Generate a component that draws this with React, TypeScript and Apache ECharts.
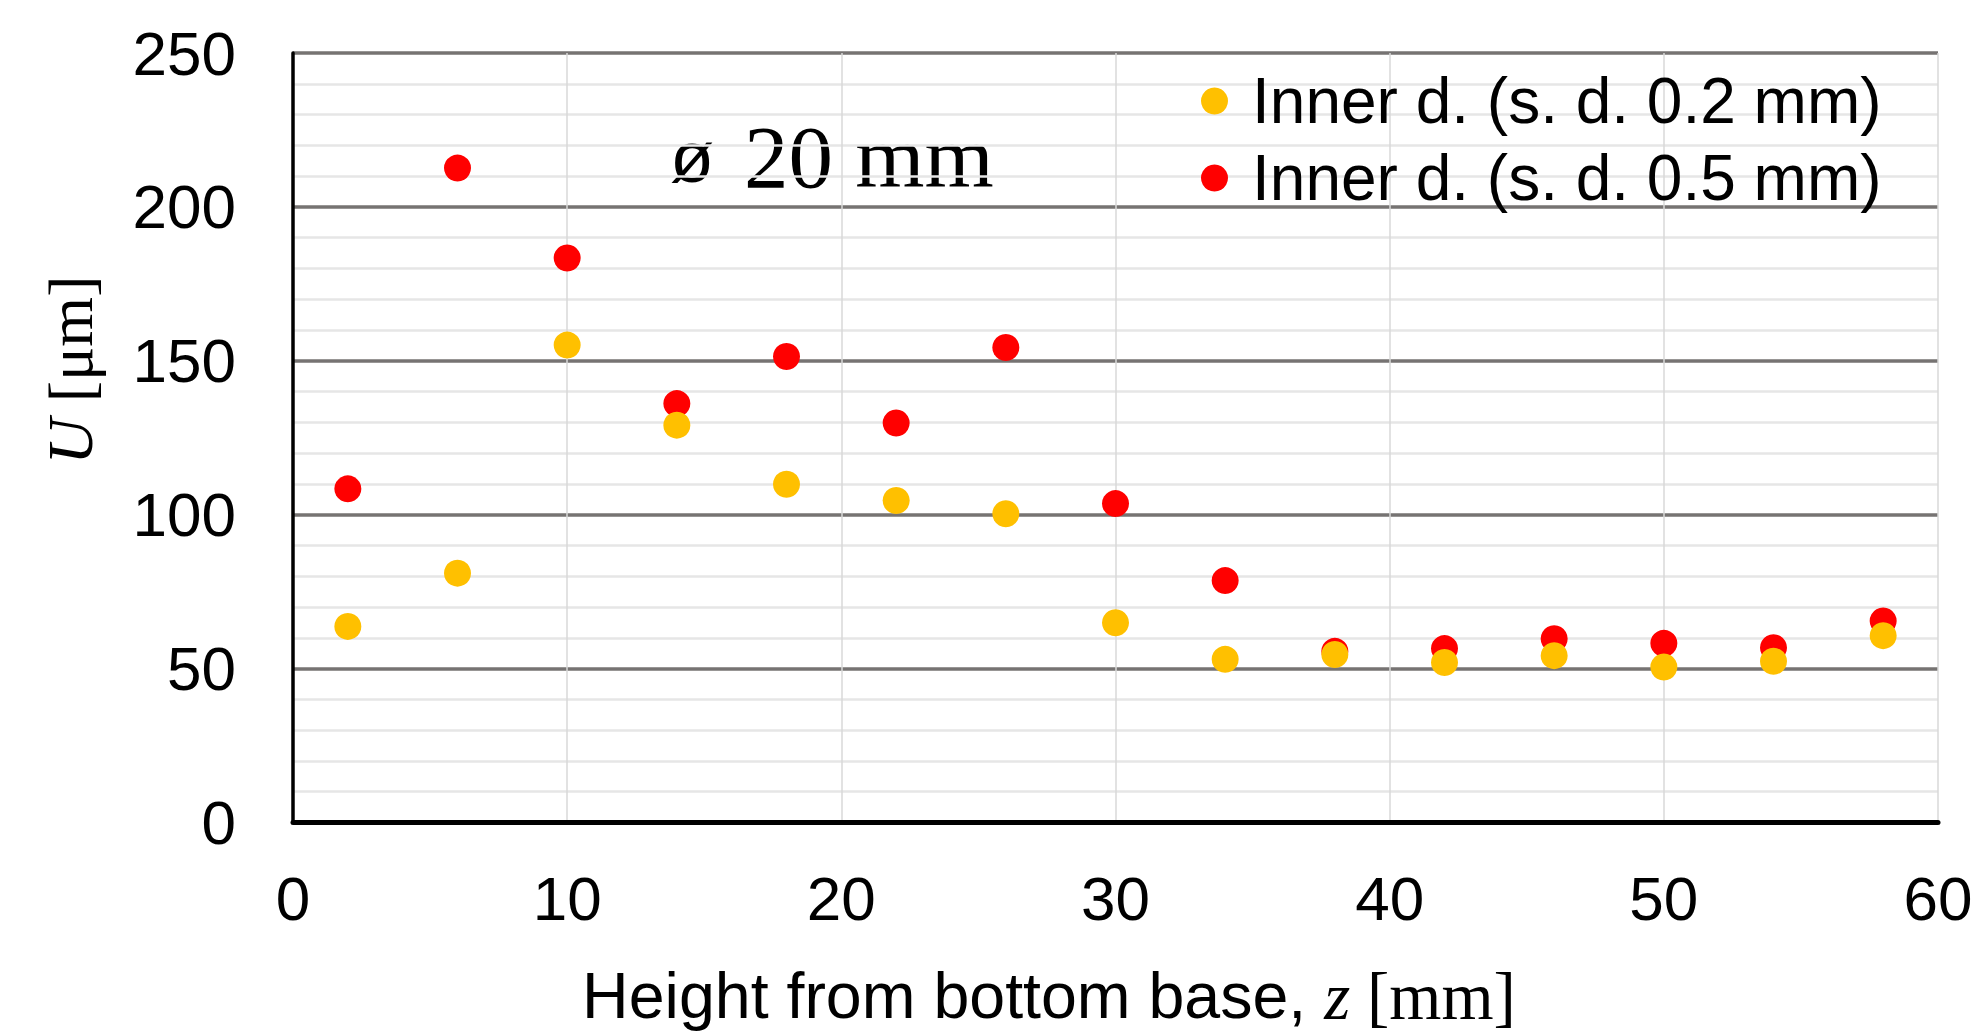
import React, { useEffect, useRef } from "react";
import * as echarts from "echarts";

const heights = [2, 6, 10, 14, 18, 22, 26, 30, 34, 38, 42, 46, 50, 54, 58];
const sd02 = [63.7, 81, 155.1, 129.1, 109.9, 104.6, 100.3, 64.9, 53, 54.6, 52, 54.2, 50.5, 52.4, 60.7];
const sd05 = [108.4, 212.6, 183.4, 136.1, 151.4, 129.8, 154.3, 103.6, 78.6, 55.6, 56.5, 59.7, 58.2, 56.8, 65.5];
const seriesNames = ["Inner d. (s. d. 0.2 mm)", "Inner d. (s. d. 0.5 mm)"];
const xTicks = { min: 0, max: 60, step: 10 };
const yTicks = { min: 0, max: 250, step: 50 };

const SANS = "'Liberation Sans', Arial, sans-serif";
const SERIF = "'Liberation Serif', 'Times New Roman', serif";

export default function App() {
  const ref = useRef<HTMLDivElement>(null);
  useEffect(() => {
    if (!ref.current) return;
    const chart = echarts.init(ref.current, null, { renderer: "svg" });
    const toPairs = (ys: number[]) => heights.map((x, i) => [x, ys[i]]);
    chart.setOption({
      animation: false,
      backgroundColor: "#ffffff",
      grid: { left: 293, right: 40, top: 53, bottom: 210.5, containLabel: false },
      xAxis: {
        type: "value",
        min: xTicks.min,
        max: xTicks.max,
        interval: xTicks.step,
        axisLine: { show: true, onZero: false, lineStyle: { color: "#000000", width: 5 } },
        axisTick: { show: false },
        axisLabel: { color: "#000", fontSize: 62, fontFamily: SANS, margin: 45 },
        splitLine: { show: true, lineStyle: { color: "#d9d9d9", width: 1.5 } },
      },
      yAxis: {
        type: "value",
        min: yTicks.min,
        max: yTicks.max,
        interval: yTicks.step,
        axisLine: { show: true, lineStyle: { color: "#000000", width: 3.5 } },
        axisTick: { show: false },
        axisLabel: { color: "#000", fontSize: 62, fontFamily: SANS, margin: 57 },
        splitLine: { show: true, lineStyle: { color: "#767372", width: 3.5 } },
        minorTick: { show: false, splitNumber: 5 },
        minorSplitLine: { show: true, lineStyle: { color: "#e6e6e6", width: 2.5 } },
      },
      legend: {
        orient: "vertical",
        left: 1196,
        top: 64,
        itemWidth: 27,
        itemHeight: 27,
        itemGap: 13,
        itemStyle: { borderWidth: 0 },
        icon: "circle",
        data: seriesNames,
        textStyle: { color: "#000", fontSize: 64, fontFamily: SANS, padding: [0, 0, 0, 19] },
      },
      series: [
        {
          name: seriesNames[1],
          type: "scatter",
          data: toPairs(sd05),
          symbol: "circle",
          symbolSize: 27,
          itemStyle: { color: "#ff0000", opacity: 1 },
          z: 2,
        },
        {
          name: seriesNames[0],
          type: "scatter",
          data: toPairs(sd02),
          symbol: "circle",
          symbolSize: 27,
          itemStyle: { color: "#ffc000", opacity: 1 },
          z: 3,
        },
      ],
      graphic: [
        {
          type: "text",
          x: 670,
          y: 157,
          style: {
            text: "{a|ø }{b|20 mm}",
            align: "left",
            verticalAlign: "middle",
            rich: {
              a: { fontFamily: SANS, fontSize: 72, fill: "#000", padding: [0, 10, 0, 0] },
              b: { fontFamily: SERIF, fontSize: 89, fill: "#000" },
            },
          },
        },
        {
          type: "text",
          x: 70,
          y: 370,
          rotation: Math.PI / 2,
          style: {
            text: "{i|U}{r| [μm]}",
            align: "center",
            verticalAlign: "middle",
            rich: {
              i: { fontFamily: SERIF, fontStyle: "italic", fontSize: 64, fill: "#000" },
              r: { fontFamily: SERIF, fontSize: 64, fill: "#000" },
            },
          },
        },
        {
          type: "text",
          x: 1049,
          y: 996,
          style: {
            text: "{s|Height from bottom base, }{i|z}{r| [mm]}",
            align: "center",
            verticalAlign: "middle",
            rich: {
              s: { fontFamily: SANS, fontSize: 64.5, fill: "#000", lineHeight: 62 },
              i: { fontFamily: SERIF, fontStyle: "italic", fontSize: 67, fill: "#000", lineHeight: 62 },
              r: { fontFamily: SERIF, fontSize: 67, fill: "#000", lineHeight: 62 },
            },
          },
        },
      ],
    });
    return () => chart.dispose();
  }, []);
  return (
    <div
      ref={ref}
      style={{ position: "fixed", left: 0, top: 0, width: 1978, height: 1033, background: "#fff" }}
    />
  );
}
